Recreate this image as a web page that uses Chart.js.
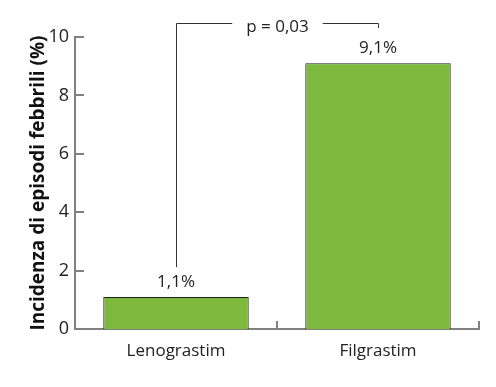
<!DOCTYPE html>
<html>
<head>
<meta charset="utf-8">
<script src="https://cdn.jsdelivr.net/npm/chart.js@4"></script>
<style>
  html, body { margin: 0; padding: 0; background: #fff; }
  #wrap { width: 496px; height: 387px; }
</style>
</head>
<body>
<div id="wrap"><canvas id="chart" width="496" height="387"></canvas></div>
<script>
const categories = ['Lenograstim', 'Filgrastim'];
const incidence = [1.1, 9.1];
const valueLabels = ['1,1%', '9,1%'];
const yTicks = [0, 2, 4, 6, 8, 10];
const pLabel = 'p = 0,03';
// bracket in data units: left foot, top, right foot
const bracket = [2.12, 10.48, 10.31];

const FONT = '"Open Sans", "Noto Sans", sans-serif';
const AXIS_GREY = '#808080';

// axis ticks (inward), bar labels and the significance bracket
const overlay = {
  id: 'overlay',
  afterDatasetsDraw(chart) {
    const ctx = chart.ctx;
    const x = chart.scales.x;
    const y = chart.scales.y;
    const area = chart.chartArea;
    ctx.save();

    // y ticks pointing right
    ctx.strokeStyle = AXIS_GREY;
    ctx.lineWidth = 2;
    yTicks.forEach(v => {
      const py = Math.round(y.getPixelForValue(v));
      ctx.beginPath();
      ctx.moveTo(area.left, py);
      ctx.lineTo(area.left + 9, py);
      ctx.stroke();
    });
    // x ticks at the right edge of each category, pointing up
    const step = (area.right - area.left) / categories.length;
    categories.forEach((c, i) => {
      const px = Math.round(x.getPixelForValue(i) + step / 2);
      ctx.beginPath();
      ctx.moveTo(px, area.bottom);
      ctx.lineTo(px, area.bottom - 8);
      ctx.stroke();
    });

    // value labels
    const meta = chart.getDatasetMeta(0);
    ctx.fillStyle = '#222';
    ctx.font = '17px ' + FONT;
    ctx.textAlign = 'center';
    ctx.textBaseline = 'alphabetic';
    meta.data.forEach((bar, i) => {
      ctx.fillText(valueLabels[i], bar.x, bar.y - 10);
    });

    // bracket
    const x0 = Math.round(meta.data[0].x) + 0.5;
    const x1 = Math.round(meta.data[1].x) + 0.5;
    const yLeft = y.getPixelForValue(bracket[0]);
    const yTop = Math.round(y.getPixelForValue(bracket[1])) + 0.5;
    const yRight = y.getPixelForValue(bracket[2]);
    const mid = (x0 + x1) / 2;
    const textW = ctx.measureText(pLabel).width;
    const gap = textW / 2 + 14;
    ctx.strokeStyle = '#333';
    ctx.lineWidth = 1;
    ctx.beginPath();
    ctx.moveTo(x0, yLeft);
    ctx.lineTo(x0, yTop);
    ctx.lineTo(mid - gap, yTop);
    ctx.moveTo(mid + gap, yTop);
    ctx.lineTo(x1, yTop);
    ctx.lineTo(x1, yRight);
    ctx.stroke();
    ctx.textBaseline = 'middle';
    ctx.fillText(pLabel, mid, yTop + 4);

    ctx.restore();
  }
};

new Chart(document.getElementById('chart'), {
  type: 'bar',
  data: {
    labels: categories,
    datasets: [{
      data: incidence,
      backgroundColor: '#7db93c',
      borderColor: '#1e1e1e',
      borderWidth: 1,
      barPercentage: 0.72,
      categoryPercentage: 1
    }]
  },
  options: {
    responsive: false,
    animation: false,
    devicePixelRatio: 1,
    layout: { padding: { top: 37, right: 17, left: 0, bottom: 0 } },
    plugins: {
      legend: { display: false },
      tooltip: { enabled: false }
    },
    scales: {
      x: {
        grid: { display: false, drawTicks: false },
        border: { display: true, color: AXIS_GREY, width: 2 },
        ticks: { color: '#222', font: { family: FONT, size: 17 }, padding: 12 },
        afterFit(scale) { scale.height = 58; }
      },
      y: {
        min: 0,
        max: 10,
        grid: { display: false, drawTicks: false },
        border: { display: true, color: AXIS_GREY, width: 2 },
        afterBuildTicks(scale) { scale.ticks = yTicks.map(v => ({ value: v })); },
        ticks: { color: '#222', font: { family: FONT, size: 18 }, padding: 6 },
        title: {
          display: true,
          text: 'Incidenza di episodi febbrili (%)',
          color: '#111',
          font: { family: FONT, size: 19, weight: 'bold' },
          padding: { top: 27, bottom: 0 }
        },
        afterFit(scale) { scale.width = 75; }
      }
    }
  },
  plugins: [overlay]
});
</script>
</body>
</html>
